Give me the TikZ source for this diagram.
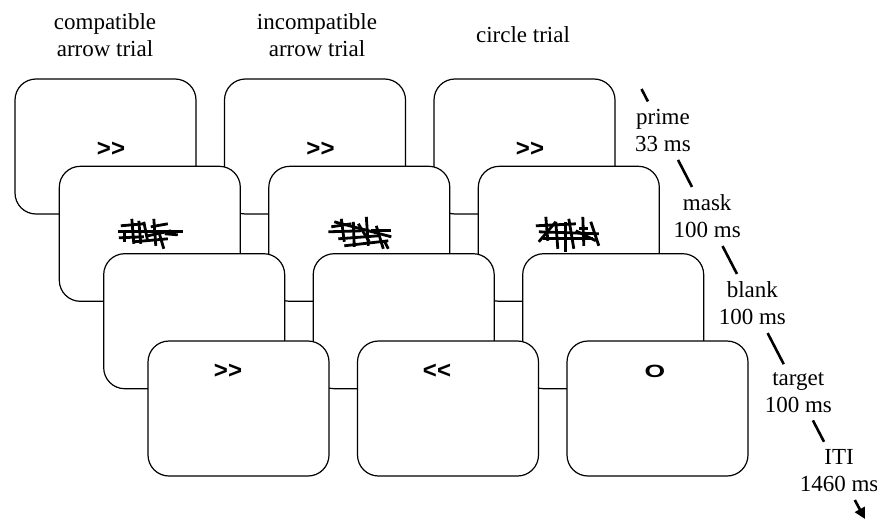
\documentclass[tikz,border=0pt]{standalone}
\usepackage{fontspec}
\setmainfont{Liberation Serif}
\newfontfamily\arrowfont{Liberation Sans}
\usetikzlibrary{calc,arrows.meta}
\begin{document}
\begin{tikzpicture}[x=1pt,y=-1pt,
  screen/.style={draw, line width=1.2pt, fill=white, rounded corners=21pt,
    minimum width=181pt, minimum height=135pt, inner sep=0pt, outer sep=0pt,
    anchor=north west},
  sym/.style={font=\arrowfont\bfseries\fontsize{24}{27}\selectfont, inner sep=0pt},
  lbl/.style={font=\fontsize{23}{27}\selectfont, align=center, inner sep=0pt},
  phase/.style={lbl, outer sep=8pt},
  timeline/.style={line width=2.6pt},
  maskline/.style={line width=2.8pt}]
\useasboundingbox (0,0) rectangle (877,519);

% titles
\node[lbl] (h1) at (105,35) {compatible\\arrow trial};
\node[lbl] (h2) at (317,35) {incompatible\\arrow trial};
\node[lbl] (h3) at (523,35) {circle trial};

% row 1: prime
\node[screen] (b11) at (15,79) {};
\node[screen] (b12) at (224.5,79) {};
\node[screen] (b13) at (434,79) {};
\node[sym] (t11) at ($(b11.center)+(5.5,2.5)$) {>>};
\node[sym] (t12) at ($(b12.center)+(5.5,2.5)$) {>>};
\node[sym] (t13) at ($(b13.center)+(5.5,2.5)$) {>>};

% row 2: mask
\node[screen] (b21) at (59.3,166.3) {};
\node[screen] (b22) at (268.8,166.3) {};
\node[screen] (b23) at (478.3,166.3) {};
\coordinate (m1) at (b21.center);
\coordinate (m2) at (b22.center);
\coordinate (m3) at (b23.center);
\begin{scope}[shift={(m1)}]
\foreach \a/\b/\c/\d in {-32/-2/33/-2, -29/-8/-6/-10, -31/4/-6/3, -25/-3/-25/8,
  -18/-15/-16/10, -11/-13/-9/10, -6/-12/-2/8, 1/-7/18/-10, 4/-15/6/12,
  -2/2/21/-3, 9/-2/14/15, 15/0/28/1, -16/8/18/5}
  \draw[maskline] (\a,\b) -- (\c,\d);
\end{scope}
\begin{scope}[shift={(m2)}]
\foreach \a/\b/\c/\d in {-31/-2/2/-3, -25/-12/32/3, -18/-15/-15/8, -6/-12/-5/13,
  7/-17/9/12, 17/-8/24/15, -21/5/19/2, 12/-3/32/-3, -15/12/29/7,
  -1/-10/10/8, -28/-7/-8/-10, 25/7/29/15}
  \draw[maskline] (\a,\b) -- (\c,\d);
\end{scope}
\begin{scope}[shift={(m3)}]
\foreach \a/\b/\c/\d in {-33/-8/7/-10, -30/-2/30/0, -23/-17/-21/7, -30/8/-13/-12,
  -13/-12/-11/15, -3/-12/-3/18, 0/-15/5/15, 14/-17/15/12, -26/5/24/5,
  7/-3/27/7, 10/-5/19/-5, 22/-12/30/12}
  \draw[maskline] (\a,\b) -- (\c,\d);
\end{scope}

% row 3: blank
\node[screen] (b31) at (103.7,253.7) {};
\node[screen] (b32) at (313.2,253.7) {};
\node[screen] (b33) at (522.7,253.7) {};

% row 4: target
\node[screen] (b41) at (148,341) {};
\node[screen] (b42) at (357.5,341) {};
\node[screen] (b43) at (567,341) {};
\node[sym] (t41) at ($(b41.north)+(-10.5,30.5)$) {>>};
\node[sym] (t42) at ($(b42.north)+(-11,30.5)$) {<<};
\node[sym] (t43) at ($(b43.north)+(-2.5,30.5)$) {\scalebox{1.1}[0.74]{O}};

% timeline
\coordinate (tl0) at (641.5,89);
\node[phase] (p1) at (663,130.7) {prime\\33 ms};
\node[phase] (p2) at (707.2,216.5) {mask\\100 ms};
\node[phase] (p3) at (752.3,303.5) {blank\\100 ms};
\node[phase] (p4) at (798.3,392.3) {target\\100 ms};
\node[phase] (p5) at (839.1,470.9) {ITI\\1460 ms};
\coordinate (tl1) at (865,519);
\draw[timeline] (tl0) -- (p1);
\draw[timeline] (p1) -- (p2);
\draw[timeline] (p2) -- (p3);
\draw[timeline] (p3) -- (p4);
\draw[timeline] (p4) -- (p5);
\draw[timeline,-{Triangle[length=11pt,width=11pt]}] (p5) -- (tl1);
\end{tikzpicture}
\end{document}
